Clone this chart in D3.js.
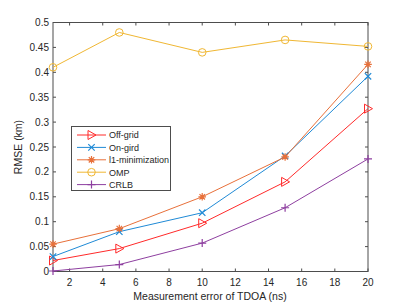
<!DOCTYPE html>
<html>
<head>
<meta charset="utf-8">
<script src="https://cdn.jsdelivr.net/npm/d3@7"></script>
<style>
  body { margin: 0; background: #fff; }
  text { font-family: "Liberation Sans", Arial, sans-serif; fill: #262626; }
</style>
</head>
<body>
<div id="chart"></div>
<script>
const W = 407
const H = 305

// chart data
const errors = [1, 5, 10, 15, 20]
const offGrid = [0.022, 0.046, 0.097, 0.180, 0.327]
const onGrid = [0.030, 0.080, 0.118, 0.232, 0.392]
const l1min = [0.055, 0.086, 0.150, 0.230, 0.416]
const omp = [0.410, 0.480, 0.440, 0.465, 0.452]
const crlb = [0.001, 0.014, 0.057, 0.128, 0.226]
const xTicks = [2, 4, 6, 8, 10, 12, 14, 16, 18, 20]
const yTicks = [0, 0.05, 0.1, 0.15, 0.2, 0.25, 0.3, 0.35, 0.4, 0.45, 0.5]

const series = [
  { name: 'Off-grid', values: offGrid, color: '#ff2a2a', marker: 'tri' },
  { name: 'On-gird', values: onGrid, color: '#1f8ad6', marker: 'x' },
  { name: 'l1-minimization', values: l1min, color: '#e8703a', marker: 'star' },
  { name: 'OMP', values: omp, color: '#f0b733', marker: 'circle' },
  { name: 'CRLB', values: crlb, color: '#8e3fa0', marker: 'plus' }
]

const PLOT_L = 53, PLOT_R = 368, PLOT_T = 22.5, PLOT_B = 271.5

const svg = d3.select('#chart').append('svg')
  .attr('width', W).attr('height', H)

const x = d3.scaleLinear().domain([1, 20]).range([PLOT_L, PLOT_R])
const y = d3.scaleLinear().domain([0, 0.5]).range([PLOT_B, PLOT_T])

const axisColor = '#4d4d4d'

// box
svg.append('rect')
  .attr('x', PLOT_L).attr('y', PLOT_T)
  .attr('width', PLOT_R - PLOT_L).attr('height', PLOT_B - PLOT_T)
  .attr('fill', 'none').attr('stroke', axisColor).attr('stroke-width', 1)

// ticks (inward, on all four sides)
const tickLen = 3
xTicks.forEach((t) => {
  svg.append('line').attr('x1', x(t)).attr('x2', x(t)).attr('y1', PLOT_B).attr('y2', PLOT_B - tickLen).attr('stroke', axisColor)
  svg.append('line').attr('x1', x(t)).attr('x2', x(t)).attr('y1', PLOT_T).attr('y2', PLOT_T + tickLen).attr('stroke', axisColor)
  svg.append('text').attr('x', x(t)).attr('y', PLOT_B + 14)
    .attr('text-anchor', 'middle').style('font-size', '10px').text(t)
})
yTicks.forEach((t) => {
  svg.append('line').attr('x1', PLOT_L).attr('x2', PLOT_L + tickLen).attr('y1', y(t)).attr('y2', y(t)).attr('stroke', axisColor)
  svg.append('line').attr('x1', PLOT_R).attr('x2', PLOT_R - tickLen).attr('y1', y(t)).attr('y2', y(t)).attr('stroke', axisColor)
  svg.append('text').attr('x', PLOT_L - 4).attr('y', y(t) + 3.5)
    .attr('text-anchor', 'end').style('font-size', '10px').text(t)
})

// axis labels
svg.append('text').attr('x', 210).attr('y', 300)
  .attr('text-anchor', 'middle').style('font-size', '10.5px')
  .text('Measurement error of TDOA (ns)')
svg.append('text')
  .attr('transform', `translate(22,${(PLOT_T + PLOT_B) / 2}) rotate(-90)`)
  .attr('text-anchor', 'middle').style('font-size', '10.5px')
  .text('RMSE (km)')

// marker drawing
function drawMarker(g, type, cx, cy, color) {
  if (type === 'tri') {
    g.append('path').attr('d', `M${cx - 3.5},${cy - 4.5} L${cx + 4.5},${cy} L${cx - 3.5},${cy + 4.5} Z`)
      .attr('fill', 'none').attr('stroke', color).attr('stroke-width', 1)
  } else if (type === 'circle') {
    g.append('circle').attr('cx', cx).attr('cy', cy).attr('r', 3.8)
      .attr('fill', 'none').attr('stroke', color).attr('stroke-width', 1)
  } else if (type === 'x') {
    const s = 3.2
    g.append('path').attr('d', `M${cx - s},${cy - s} L${cx + s},${cy + s} M${cx - s},${cy + s} L${cx + s},${cy - s}`)
      .attr('stroke', color).attr('stroke-width', 1.2)
  } else if (type === 'plus') {
    const s = 4
    g.append('path').attr('d', `M${cx - s},${cy} L${cx + s},${cy} M${cx},${cy - s} L${cx},${cy + s}`)
      .attr('stroke', color).attr('stroke-width', 1.2)
  } else if (type === 'star') {
    const s = 3.8, d = s * 0.72
    g.append('path').attr('d', `M${cx - s},${cy} L${cx + s},${cy} M${cx},${cy - s} L${cx},${cy + s} M${cx - d},${cy - d} L${cx + d},${cy + d} M${cx - d},${cy + d} L${cx + d},${cy - d}`)
      .attr('stroke', color).attr('stroke-width', 1.2)
  }
}

const line = d3.line().x((d) => x(d[0])).y((d) => y(d[1]))

series.forEach((s) => {
  const pts = errors.map((e, i) => [e, s.values[i]])
  const g = svg.append('g')
  g.append('path').attr('d', line(pts))
    .attr('fill', 'none').attr('stroke', s.color).attr('stroke-width', 1)
  pts.forEach((p) => drawMarker(g, s.marker, x(p[0]), y(p[1]), s.color))
})

// legend
const lg = svg.append('g')
lg.append('rect').attr('x', 71.5).attr('y', 126.5).attr('width', 99).attr('height', 64)
  .attr('fill', '#fff').attr('stroke', axisColor).attr('stroke-width', 1)
series.forEach((s, i) => {
  const ly = 135 + i * 12.4
  lg.append('line').attr('x1', 77).attr('x2', 106).attr('y1', ly).attr('y2', ly)
    .attr('stroke', s.color).attr('stroke-width', 1)
  drawMarker(lg, s.marker, 91.5, ly, s.color)
  lg.append('text').attr('x', 109).attr('y', ly + 3.3).style('font-size', '9px').text(s.name)
})
</script>
</body>
</html>
